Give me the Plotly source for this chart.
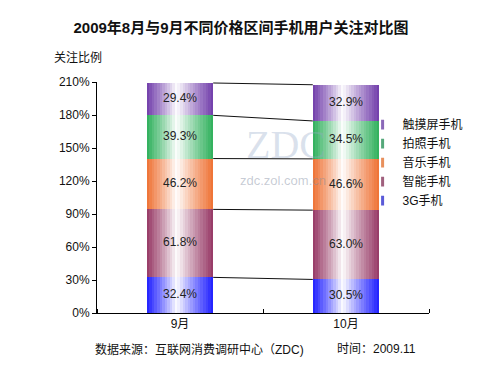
import plotly.graph_objects as go

# ---------------- data ----------------
categories = ["9月", "10月"]
series_names = ["3G手机", "智能手机", "音乐手机", "拍照手机", "触摸屏手机"]  # bottom -> top
v_3g = [32.4, 30.5]
v_smart = [61.8, 63.0]
v_music = [46.2, 46.6]
v_photo = [39.3, 34.5]
v_touch = [29.4, 32.9]
y_ticks = [0, 30, 60, 90, 120, 150, 180, 210]
y_tick_labels = [f"{t}%" for t in y_ticks]

series_values = [v_3g, v_smart, v_music, v_photo, v_touch]
edge_colors = [(30, 30, 255), (150, 55, 100), (238, 112, 50), (45, 175, 90), (112, 60, 170)]
legend_colors = ["#5a5ad8", "#a0607e", "#e8905c", "#55a87a", "#8a68b8"]

FONT = "Liberation Sans, Arial, Noto Sans CJK SC"
xpos = list(range(len(categories)))
BAR_W = 0.4
N_STRIPES = 26
PEAK = 0.45


def stripe_color(edge, f):
    if f < PEAK:
        d = (PEAK - f) / PEAK
    else:
        d = (f - PEAK) / (1 - PEAK)
    m = min(1.0, d) ** 0.9
    r, g, b = (round(255 * (1 - m) + c * m) for c in edge)
    return f"rgb({r},{g},{b})"


fig = go.Figure()

bases = [0.0] * len(categories)
tops_all = []
label_x, label_y, label_t = [], [], []
for name, vals, edge in zip(series_names, series_values, edge_colors):
    sw = BAR_W / N_STRIPES
    for k in range(N_STRIPES):
        off = -BAR_W / 2 + k * sw
        width = min(sw * 1.4, BAR_W / 2 - off)
        fig.add_trace(go.Bar(
            x=xpos, y=vals, base=list(bases),
            width=width, offset=off,
            marker=dict(color=stripe_color(edge, (k + 0.5) / N_STRIPES), line=dict(width=0)),
            showlegend=False, hoverinfo="skip",
        ))
    for i, v in enumerate(vals):
        label_x.append(xpos[i])
        label_y.append(bases[i] + v / 2)
        label_t.append(f"{v:.1f}%")
    bases = [b + v for b, v in zip(bases, vals)]
    tops_all.append(list(bases))

# connector lines between the tops of each segment
for tops in tops_all:
    fig.add_trace(go.Scatter(
        x=[xpos[0] + BAR_W / 2, xpos[1] - BAR_W / 2], y=tops,
        mode="lines", line=dict(color="#111111", width=1),
        showlegend=False, hoverinfo="skip",
    ))

# value labels
fig.add_trace(go.Scatter(
    x=label_x, y=label_y, text=label_t, mode="text",
    textfont=dict(family=FONT, size=12, color="#222222"),
    showlegend=False, hoverinfo="skip",
))

# legend entries (top series first)
for rank, (name, col) in enumerate(zip(series_names[::-1], legend_colors[::-1])):
    fig.add_trace(go.Scatter(
        x=[None], y=[None], mode="markers", name=name,
        marker=dict(symbol="line-ns", size=7, line=dict(width=3, color=col), color=col),
        legendrank=rank + 1,
    ))

fig.update_layout(
    width=500, height=375,
    margin=dict(l=89, r=79, t=74, b=70),
    paper_bgcolor="white", plot_bgcolor="white",
    barmode="overlay", bargap=0,
    font=dict(family=FONT, size=12, color="#111111"),
    title=dict(text="2009年8月与9月不同价格区间手机用户关注对比图",
               x=0.466, xanchor="center", y=0.9467, yanchor="middle",
               font=dict(family=FONT, size=15, color="#111111", weight="bold")),
    showlegend=True,
    legend=dict(x=0.80, xanchor="left", y=0.878, yanchor="top",
                font=dict(family=FONT, size=12, color="#111111"),
                bgcolor="rgba(0,0,0,0)", borderwidth=0, itemwidth=30,
                tracegroupgap=0),
    xaxis=dict(range=[-0.5, 1.5], tickvals=xpos, ticktext=categories,
               ticks="", showline=True, linecolor="black", linewidth=1,
               showgrid=False, zeroline=False,
               tickfont=dict(family=FONT, size=12, color="#111111"),
               minor=dict(tickvals=[-0.5, 0.5, 1.5], ticks="inside", ticklen=4,
                          tickcolor="black", showgrid=False)),
    yaxis=dict(range=[0, 210], tickmode="array", tickvals=y_ticks, ticktext=y_tick_labels,
               ticks="outside", ticklen=4, tickcolor="black",
               showline=True, linecolor="black", linewidth=1,
               showgrid=False, zeroline=False,
               tickfont=dict(family=FONT, size=12, color="#111111")),
    annotations=[
        dict(text="关注比例", xref="paper", yref="paper", x=-0.1355, y=1.108,
             xanchor="left", yanchor="middle", showarrow=False,
             font=dict(family=FONT, size=12, color="#111111")),
        dict(text="数据来源：互联网消费调研中心（ZDC)", xref="paper", yref="paper",
             x=-0.012, y=-0.156, xanchor="left", yanchor="middle", showarrow=False,
             font=dict(family=FONT, size=12, color="#111111")),
        dict(text="时间：2009.11", xref="paper", yref="paper",
             x=0.717, y=-0.156, xanchor="left", yanchor="middle", showarrow=False,
             font=dict(family=FONT, size=12, color="#111111")),
        # watermark
        dict(text="ZDC", xref="paper", yref="paper", x=0.57, y=0.73,
             xanchor="center", yanchor="middle", showarrow=False,
             font=dict(family="Liberation Serif, DejaVu Serif", size=40,
                       color="rgba(150,170,200,0.35)")),
        dict(text="zdc.zol.com.cn", xref="paper", yref="paper", x=0.56, y=0.575,
             xanchor="center", yanchor="middle", showarrow=False,
             font=dict(family=FONT, size=13, color="rgba(130,140,160,0.45)")),
    ],
)

fig.write_html("out.html")
